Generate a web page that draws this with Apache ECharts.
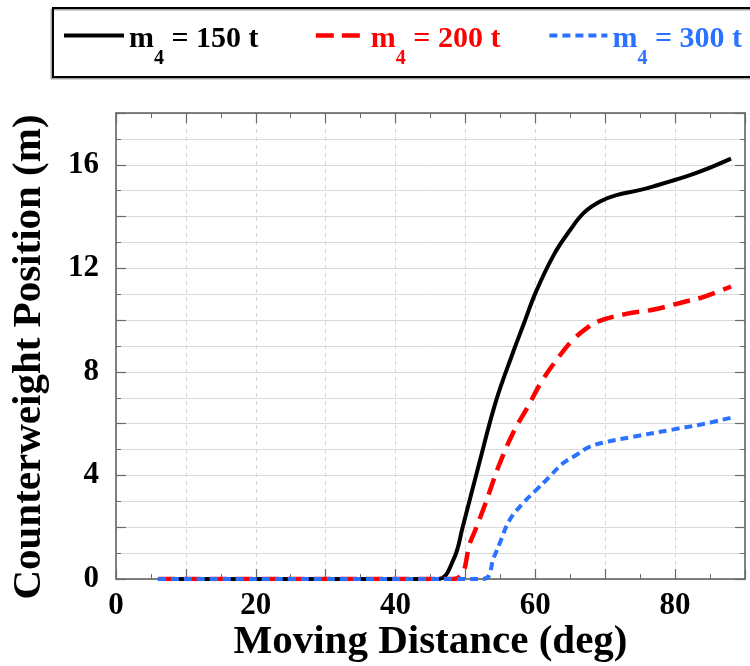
<!DOCTYPE html>
<html>
<head>
<meta charset="utf-8">
<script src="https://cdn.jsdelivr.net/npm/echarts@6/dist/echarts.min.js"></script>
<style>
  html, body { margin: 0; padding: 0; background: #fff; }
  #chart { width: 750px; height: 666px; }
</style>
</head>
<body>
<div id="chart"></div>
<script>
// Counterweight position versus moving distance for three counterweight masses
const seriesNames = ['150 t', '200 t', '300 t'];

const deg150 = [6, 46, 48.3, 49.6, 52, 54.4, 56.8, 58.2, 60.1, 62.7, 64.9, 67, 69.4, 71.5, 74.9, 77.2, 81.5, 83.9, 88];
const pos150 = [0, 0, 0.76, 2.0, 4.5, 6.9, 8.75, 9.75, 11.1, 12.55, 13.45, 14.16, 14.6, 14.82, 15.02, 15.19, 15.54, 15.77, 16.24];

const deg200 = [6, 48.2, 50.8, 52.7, 54.9, 57, 58.9, 61, 63.7, 65.3, 67.2, 69.1, 73, 76.8, 81.5, 83.9, 88];
const pos200 = [0, 0, 1.5, 2.8, 4.46, 5.74, 6.64, 7.67, 8.7, 9.21, 9.66, 9.96, 10.24, 10.4, 10.72, 10.88, 11.3];

const deg300 = [6, 52.5, 54.1, 54.9, 56.3, 58.2, 60.1, 62, 63.9, 65.8, 67.7, 70.1, 73.9, 79.6, 83.9, 88];
const pos300 = [0, 0, 0.86, 1.38, 2.27, 2.92, 3.43, 3.94, 4.46, 4.78, 5.1, 5.29, 5.49, 5.77, 5.98, 6.23];

const xTickLabels = [0, 20, 40, 60, 80];
const yTickLabels = [0, 4, 8, 12, 16];

const FONT = '"Liberation Serif", "Times New Roman", serif';
const colors = ['#000000', '#ff0000', '#2a72ff'];

function pairs(xs, ys) {
  return xs.map((x, i) => [x, ys[i]]);
}

const chart = echarts.init(document.getElementById('chart'), null, { renderer: 'canvas' });

function frameAxis(extra) {
  return Object.assign({
    type: 'value',
    axisLine: { show: true, onZero: false, lineStyle: { color: '#5a5a5a', width: 1.5 } },
    axisTick: { show: true, inside: true, length: 10, lineStyle: { color: '#6a6a6a', width: 1.2 } },
    minorTick: { show: true, splitNumber: 2, length: 5, lineStyle: { color: '#6a6a6a', width: 1 } },
    axisLabel: { show: false },
    splitLine: { show: false }
  }, extra);
}

const labelStyle = { fontFamily: FONT, fontWeight: 'bold', fontSize: 31, color: '#000' };
const nameStyle = { fontFamily: FONT, fontWeight: 'bold', fontSize: 41, color: '#000' };

// "m" with a lowered "4" subscript
const legendRich = {
  a: { fontFamily: FONT, fontWeight: 'bold', fontSize: 30, lineHeight: 66, verticalAlign: 'middle', padding: [7, 0, 0, 0] },
  s: { fontFamily: FONT, fontWeight: 'bold', fontSize: 20, lineHeight: 20, verticalAlign: 'bottom' }
};

const option = {
  backgroundColor: '#fff',
  animation: false,
  graphic: [{
    type: 'rect',
    shape: { x: 53, y: 8, width: 720, height: 69 },
    style: { fill: 'none', stroke: '#000', lineWidth: 2, shadowColor: 'rgba(0,0,0,0.35)', shadowOffsetX: -1.5, shadowOffsetY: 1.5, shadowBlur: 0 },
    z: 10
  }],
  legend: {
    left: 62,
    top: 17,
    padding: 0,
    itemWidth: 60,
    itemHeight: 6,
    itemGap: 45,
    lineStyle: { width: 4 },
    itemStyle: { opacity: 0 },
    data: [
      { name: seriesNames[0], textStyle: { color: colors[0] } },
      { name: seriesNames[1], textStyle: { color: colors[1] }, lineStyle: { width: 4.5, type: [18, 8, 18, 16], dashOffset: 50 } },
      { name: seriesNames[2], textStyle: { color: colors[2] }, lineStyle: { width: 4, type: [8, 5] } }
    ],
    formatter: name => '{a|m}{s|4}{a| = ' + name + '}',
    textStyle: { rich: legendRich }
  },
  grid: { left: 116, right: 5, top: 113, bottom: 87, outerBoundsMode: 'none' },
  xAxis: [
    frameAxis({
      position: 'bottom', min: 0, max: 90, interval: 10,
      axisLabel: {
        show: true, margin: 11, ...labelStyle,
        formatter: v => (xTickLabels.indexOf(v) >= 0 ? String(v) : '')
      },
      splitLine: { show: true, lineStyle: { color: '#d4d4d4', width: 1, type: [4, 4] } },
      name: 'Moving Distance (deg)', nameLocation: 'middle', nameGap: 43, nameMoveOverlap: false,
      nameTextStyle: nameStyle
    }),
    frameAxis({ position: 'top', min: 0, max: 90, interval: 10 })
  ],
  yAxis: [
    frameAxis({
      position: 'left', min: 0, max: 18, interval: 2,
      axisLabel: {
        show: true, margin: 17, ...labelStyle,
        formatter: v => (yTickLabels.indexOf(v) >= 0 ? String(v) : '')
      },
      splitLine: { show: true, lineStyle: { color: '#dadada', width: 1 } },
      minorSplitLine: { show: true, lineStyle: { color: '#dadada', width: 1 } },
      name: 'Counterweight Position (m)', nameLocation: 'middle', nameGap: 66, nameMoveOverlap: false,
      nameTextStyle: Object.assign({ padding: [0, 22, 0, 0] }, nameStyle)
    }),
    frameAxis({ position: 'right', min: 0, max: 18, interval: 2 })
  ],
  series: [
    {
      name: seriesNames[0], type: 'line', data: pairs(deg150, pos150),
      showSymbol: false, symbol: 'none', z: 3, smooth: 0.4,
      lineStyle: { color: colors[0], width: 4, type: 'solid' }, itemStyle: { color: colors[0] }
    },
    {
      name: seriesNames[1], type: 'line', data: pairs(deg200, pos200),
      showSymbol: false, symbol: 'none', z: 4, smooth: 0.4,
      lineStyle: { color: colors[1], width: 4.5, type: [17, 9] }, itemStyle: { color: colors[1] }
    },
    {
      name: seriesNames[2], type: 'line', data: pairs(deg300, pos300),
      showSymbol: false, symbol: 'none', z: 5, smooth: 0.4,
      lineStyle: { color: colors[2], width: 4, type: [8, 5] }, itemStyle: { color: colors[2] }
    }
  ]
};

chart.setOption(option);
</script>
</body>
</html>
